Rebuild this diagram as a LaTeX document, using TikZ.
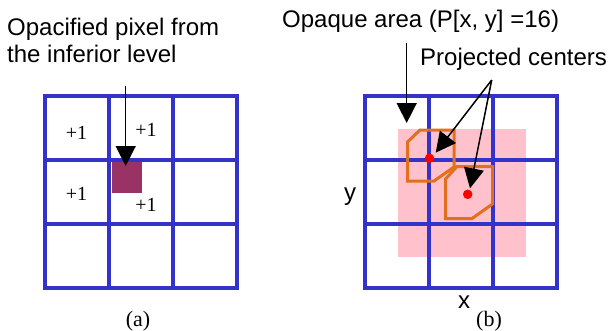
\documentclass[tikz,border=0pt]{standalone}
\usepackage{fontspec}
\setmainfont{Liberation Sans}
\newfontfamily\serifface{Liberation Serif}
\usetikzlibrary{arrows.meta}
\definecolor{gridblue}{RGB}{51,51,204}
\definecolor{pixpurple}{RGB}{153,51,102}
\definecolor{opqpink}{RGB}{255,194,205}
\definecolor{octorange}{RGB}{226,110,30}
\definecolor{dotred}{RGB}{255,0,0}
\tikzset{
  gridline/.style={draw=gridblue, line width=4pt},
  octline/.style={draw=octorange, line width=3pt, line join=miter},
  bigarrow/.style={draw=black, line width=1.5pt, -{Triangle[width=20pt,length=20pt]}},
  sanslabel/.style={inner sep=0pt, font=\fontsize{24}{27}\selectfont},
  pluslabel/.style={inner sep=0pt, anchor=base, font=\serifface\fontsize{20}{23}\selectfont},
  caplabel/.style={inner sep=0pt, anchor=base, font=\serifface\fontsize{22}{25}\selectfont},
  reddot/.style={circle, fill=dotred, inner sep=0pt, minimum size=9.5pt}
}
\begin{document}
\begin{tikzpicture}[x=1pt,y=-1pt]
\useasboundingbox (0,0) rectangle (608,330);
\fill[white] (0,0) rectangle (608,330);

% ---------- panel (a) ----------
\draw[gridline] (45,96) rectangle (237,288);
\draw[gridline] (109,96) -- (109,288) (173,96) -- (173,288)
                (45,160) -- (237,160) (45,224) -- (237,224);
\node[fill=pixpurple, inner sep=0pt, minimum width=30pt, minimum height=31pt] (pix) at (127,177.5) {};
\node[pluslabel] (p1) at (76.5,139) {+1};
\node[pluslabel] (p2) at (146,136.5) {+1};
\node[pluslabel] (p3) at (76.5,200) {+1};
\node[pluslabel] (p4) at (146,211.5) {+1};
\node[sanslabel, anchor=base west] (lbla1) at (7,35) {Opacified pixel from};
\node[sanslabel, anchor=base west] (lbla2) at (7,62) {the inferior level};
\coordinate (astart) at (125.7,86);
\coordinate (atip) at (125.7,166);
\draw[bigarrow] (astart) -- (atip);
\node[caplabel] (capa) at (138,326) {(a)};

% ---------- panel (b) ----------
\node[fill=opqpink, inner sep=0pt, minimum width=128.5pt, minimum height=127.7pt] (opq) at (461.8,192.8) {};
\draw[gridline] (365,96) rectangle (557,288);
\draw[gridline] (429,96) -- (429,288) (493,96) -- (493,288)
                (365,160) -- (557,160) (365,224) -- (557,224);
\draw[octline] (407.5,142) -- (420,130) -- (454,130) -- (454,167) -- (434,181) -- (407.5,181) -- cycle;
\draw[octline] (445.5,179) -- (457,166.5) -- (492.5,166.5) -- (492.5,204) -- (472,218.5) -- (445.5,218.5) -- cycle;
\node[reddot] (c1) at (429.5,158.3) {};
\node[reddot] (c2) at (467.7,194.3) {};
\node[sanslabel, anchor=base west] (lblo) at (282,27) {Opaque area (P[x, y] =16)};
\node[sanslabel, anchor=base west] (lblp) at (420,65.7) {Projected centers};
\coordinate (ostart) at (406.7,43);
\coordinate (otip) at (406.7,123);
\draw[bigarrow] (ostart) -- (otip);
\coordinate (pstart) at (491.7,80);
\coordinate (ptip1) at (435.7,152.7);
\coordinate (ptip2) at (470,188.3);
\draw[bigarrow] (pstart) -- (ptip1);
\draw[bigarrow] (pstart) -- (ptip2);
\node[sanslabel, anchor=base] (ylab) at (350,200) {y};
\node[sanslabel, anchor=base] (xlab) at (464,308) {x};
\node[caplabel] (capb) at (489,326) {(b)};
\end{tikzpicture}
\end{document}
